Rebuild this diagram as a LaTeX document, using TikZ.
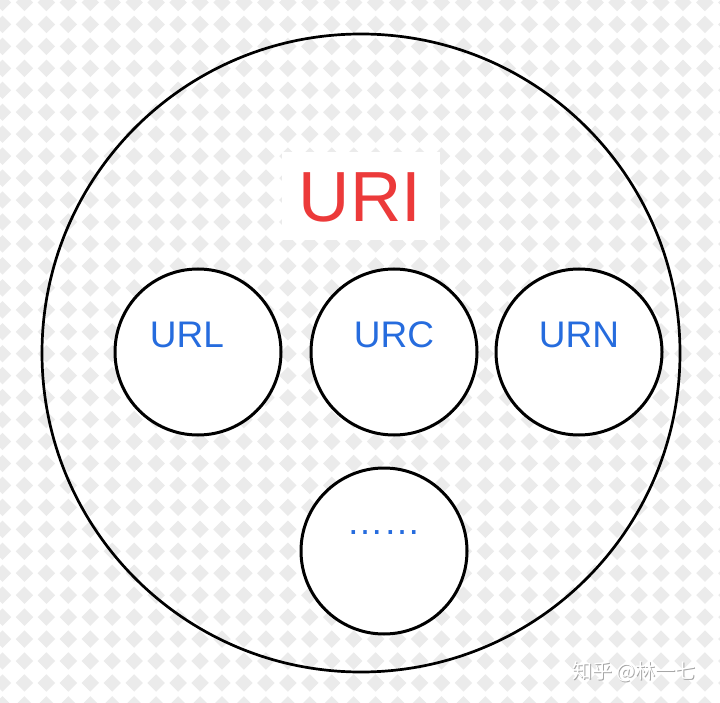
\documentclass[tikz,border=0pt]{standalone}
\usepackage{fontspec}
\setmainfont{Liberation Sans}
\newfontfamily\cjk{Noto Sans CJK SC}
\definecolor{urired}{RGB}{236,58,58}
\definecolor{partblue}{RGB}{38,108,222}
\definecolor{tile}{RGB}{235,235,235}
\tikzset{
  part/.style={circle,draw=black,line width=3pt,fill=white,minimum size=166pt,inner sep=0pt},
  partname/.style={text=partblue,inner sep=0pt,font=\fontsize{37}{37}\selectfont},
}
\begin{document}
\begin{tikzpicture}[x=1pt,y=-1pt]
    \useasboundingbox (0,0) rectangle (720,703);
    \fill[white] (0,0) rectangle (720,703);
    % checker background
    \foreach \i in {0,...,33}
        \foreach \j in {0,...,32}
            \fill[tile] (2.5+21.95*\i,2.5+21.95*\j) ++(-8.7,0) -- ++(8.7,-8.7) -- ++(8.7,8.7) -- ++(-8.7,8.7) -- cycle;
    % outer circle
    \node[circle,draw=black,line width=2.7pt,minimum size=638pt,inner sep=0pt] (uri) at (361,353) {};
    \node[fill=white,minimum width=158pt,minimum height=88pt,inner sep=0pt] (uribox) at (361,196) {};
    \node[text=urired,inner sep=0pt,font=\fontsize{71}{71}\selectfont] (urititle) at (360,197.5) {URI};
    % inner circles
    \node[part] (url) at (198,352) {};
    \node[part] (urc) at (394,352) {};
    \node[part] (urn) at (579,352) {};
    \node[part] (more) at (384,551) {};
    \node[partname] (urltext) at (187,335) {URL};
    \node[partname] (urctext) at (394,335) {URC};
    \node[partname] (urntext) at (579,335) {URN};
    \node[partname] (moretext) at (383.5,533) {……};
    % watermark
    \node[text=black!35,inner sep=0pt,font=\cjk\fontsize{20}{20}\selectfont] (marksh) at (634.8,672.8) {知乎 @林一七};
    \node[text=white,inner sep=0pt,font=\cjk\fontsize{20}{20}\selectfont] (mark) at (634,672) {知乎 @林一七};
\end{tikzpicture}
\end{document}
